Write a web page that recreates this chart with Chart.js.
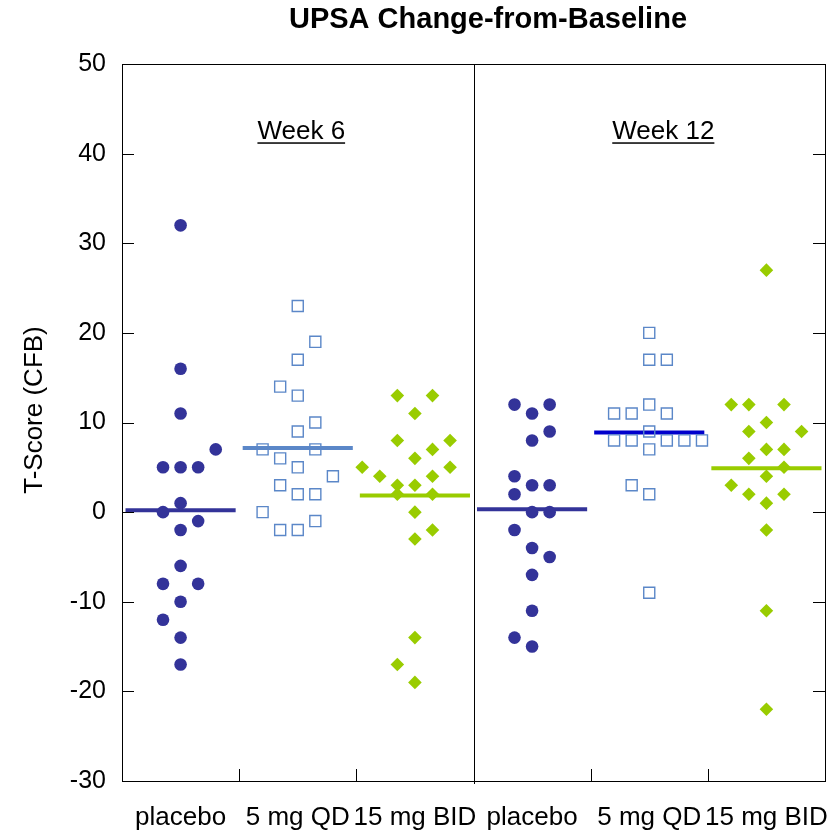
<!DOCTYPE html>
<html>
<head>
<meta charset="utf-8">
<script src="https://cdn.jsdelivr.net/npm/chart.js@4.4.1/dist/chart.umd.min.js"></script>
<style>
  html, body { margin:0; padding:0; background:#fff; }
</style>
</head>
<body>
<canvas id="chart" width="830" height="836"></canvas>
<script>
/* ===== DATA ===== */
const chartTitle = 'UPSA Change-from-Baseline';
const yTitle = 'T-Score (CFB)';
const groupLabels = ['placebo', '5 mg QD', '15 mg BID', 'placebo', '5 mg QD', '15 mg BID'];
const weekLabels = ['Week 6', 'Week 12'];

// individual T-score change values per group, with the dot column each one sits in
const w6Placebo     = [32, 16, 11, 7, 5, 5, 5, 1, 0, -1, -2, -6, -8, -8, -10, -12, -14, -17];
const w6PlaceboCol  = [ 0,  0,  0, 2,-1, 0, 1, 0,-1,  1,  0,  0, -1,  1,   0,  -1,   0,   0];
const w6Qd5         = [23, 19, 17, 14, 13, 10, 9, 7, 7, 6, 5, 4, 3, 2, 2, 0, -1, -2, -2];
const w6Qd5Col      = [ 0,  1,  0, -1,  0,  1, 0,-2, 1,-1, 0, 2,-1, 0, 1,-2,  1, -1,  0];
const w6Bid15       = [13, 13, 11, 8, 8, 7, 6, 5, 5, 4, 4, 3, 3, 2, 2, 0, -2, -3, -14, -17, -19];
const w6Bid15Col    = [-1,  1,  0,-1, 2, 1, 0,-3, 2,-2, 1,-1, 0,-1, 1, 0,  1,  0,   0,  -1,   0];
const w12Placebo    = [12, 12, 11, 9, 8, 4, 3, 3, 2, 0, 0, -2, -4, -5, -7, -11, -14, -15];
const w12PlaceboCol = [-1,  1,  0, 1, 0,-1, 0, 1,-1, 0, 1, -1,  0,  1,  0,   0,  -1,   0];
const w12Qd5        = [20, 17, 17, 12, 11, 11, 11, 9, 8, 8, 8, 8, 8, 7, 3, 2, -9];
const w12Qd5Col     = [ 0,  0,  1,  0, -2, -1,  1, 0,-2,-1, 1, 2, 3, 0,-1, 0,  0];
const w12Bid15      = [27, 12, 12, 12, 10, 9, 9, 7, 7, 6, 5, 4, 3, 2, 2, 1, -2, -11, -22];
const w12Bid15Col   = [ 0, -2, -1,  1,  0,-1, 2, 0, 1,-1, 1, 0,-2,-1, 1, 0,  0,   0,   0];

const groupValues = [w6Placebo, w6Qd5, w6Bid15, w12Placebo, w12Qd5, w12Bid15];
const groupCols   = [w6PlaceboCol, w6Qd5Col, w6Bid15Col, w12PlaceboCol, w12Qd5Col, w12Bid15Col];

/* ===== STYLE ===== */
const FONT = "'Liberation Sans', Arial, Helvetica, sans-serif";
const NAVY = '#333399', SKY = '#5b87c8', LIME = '#99cc00', BLUE = '#0000cc';
const markStyles = [
  { pointStyle:'circle',  radius:6.3, bg:NAVY,          border:NAVY, bw:0 },
  { pointStyle:'rect',    radius:7.8, bg:'rgba(0,0,0,0)', border:SKY, bw:1.4 },
  { pointStyle:'rectRot', radius:6.8, bg:LIME,          border:LIME, bw:0 },
];
const meanColors = [NAVY, SKY, LIME, NAVY, BLUE, LIME];
const COL_STEP = 0.15, HALF_LINE = 0.47;

const mean = a => a.reduce((s, v) => s + v, 0) / a.length;

const datasets = [];
groupValues.forEach((vals, g) => {
  const m = markStyles[g % 3];
  datasets.push({
    data: vals.map((v, i) => ({ x: g + groupCols[g][i] * COL_STEP, y: v })),
    pointStyle: m.pointStyle, pointRadius: m.radius,
    backgroundColor: m.bg, borderColor: m.border, borderWidth: m.bw,
    order: 0
  });
  const avg = mean(vals);
  datasets.push({
    data: [{ x: g - HALF_LINE, y: avg }, { x: g + HALF_LINE, y: avg }],
    showLine: true, pointRadius: 0, borderColor: meanColors[g], borderWidth: 4,
    order: 1
  });
});

/* titles, frame, inward ticks, week divider and week captions */
const framePlugin = {
  id: 'frame',
  afterDatasetsDraw(chart) {
    const { ctx, chartArea: a, scales: { x, y } } = chart;
    ctx.save();
    ctx.strokeStyle = '#000';
    ctx.lineWidth = 1;
    ctx.strokeRect(Math.round(a.left) + 0.5, Math.round(a.top) + 0.5, Math.round(a.right - a.left), Math.round(a.bottom - a.top));
    ctx.beginPath();
    for (let v = -20; v <= 40; v += 10) {
      const py = Math.round(y.getPixelForValue(v)) + 0.5;
      ctx.moveTo(a.left, py); ctx.lineTo(a.left + 12, py);
      ctx.moveTo(a.right, py); ctx.lineTo(a.right - 12, py);
    }
    [0.5, 1.5, 3.5, 4.5].forEach(v => {
      const px = Math.round(x.getPixelForValue(v)) + 0.5;
      ctx.moveTo(px, a.bottom); ctx.lineTo(px, a.bottom - 12);
    });
    const dx = Math.round(x.getPixelForValue(2.5)) + 0.5;
    ctx.moveTo(dx, a.top); ctx.lineTo(dx, a.bottom + 3);
    ctx.stroke();

    ctx.fillStyle = '#000';
    ctx.textAlign = 'center';

    ctx.font = 'bold 29px ' + FONT;
    ctx.textBaseline = 'middle';
    ctx.fillText(chartTitle, 488, 20);

    ctx.save();
    ctx.font = '26px ' + FONT;
    ctx.translate(35, 410);
    ctx.rotate(-Math.PI / 2);
    ctx.fillText(yTitle, 0, 0);
    ctx.restore();

    ctx.font = '26px ' + FONT;
    ctx.textBaseline = 'alphabetic';
    [[1.03, weekLabels[0]], [4.12, weekLabels[1]]].forEach(([xv, t]) => {
      const px = x.getPixelForValue(xv), py = y.getPixelForValue(41.6);
      ctx.fillText(t, px, py);
      const w = ctx.measureText(t).width;
      ctx.fillRect(px - w / 2, py + 3, w, 1.5);
    });
    ctx.restore();
  }
};

new Chart(document.getElementById('chart'), {
  type: 'scatter',
  data: { datasets },
  plugins: [framePlugin],
  options: {
    responsive: false,
    animation: false,
    layout: { autoPadding: false, padding: { left: 0, right: 5, top: 64, bottom: 0 } },
    plugins: {
      legend: { display: false },
      tooltip: { enabled: false },
      title: { display: false }
    },
    scales: {
      x: {
        type: 'linear', min: -0.5, max: 5.5,
        afterBuildTicks: s => { s.ticks = groupLabels.map((_, i) => ({ value: i })); },
        afterFit: s => { s.height = 55; s.paddingLeft = 0; s.paddingRight = 0; },
        grid: { display: false, drawTicks: false },
        border: { display: false },
        ticks: {
          autoSkip: false, maxRotation: 0, padding: 21, color: '#000',
          font: { family: FONT, size: 26 },
          callback: v => groupLabels[v] ?? ''
        }
      },
      y: {
        min: -30, max: 50,
        afterFit: s => { s.width = 122; s.paddingTop = 0; s.paddingBottom = 0; },
        grid: { display: false, drawTicks: false },
        border: { display: false },
        ticks: { stepSize: 10, padding: 16, color: '#000', font: { family: FONT, size: 25 } }
      }
    }
  }
});
</script>
</body>
</html>
